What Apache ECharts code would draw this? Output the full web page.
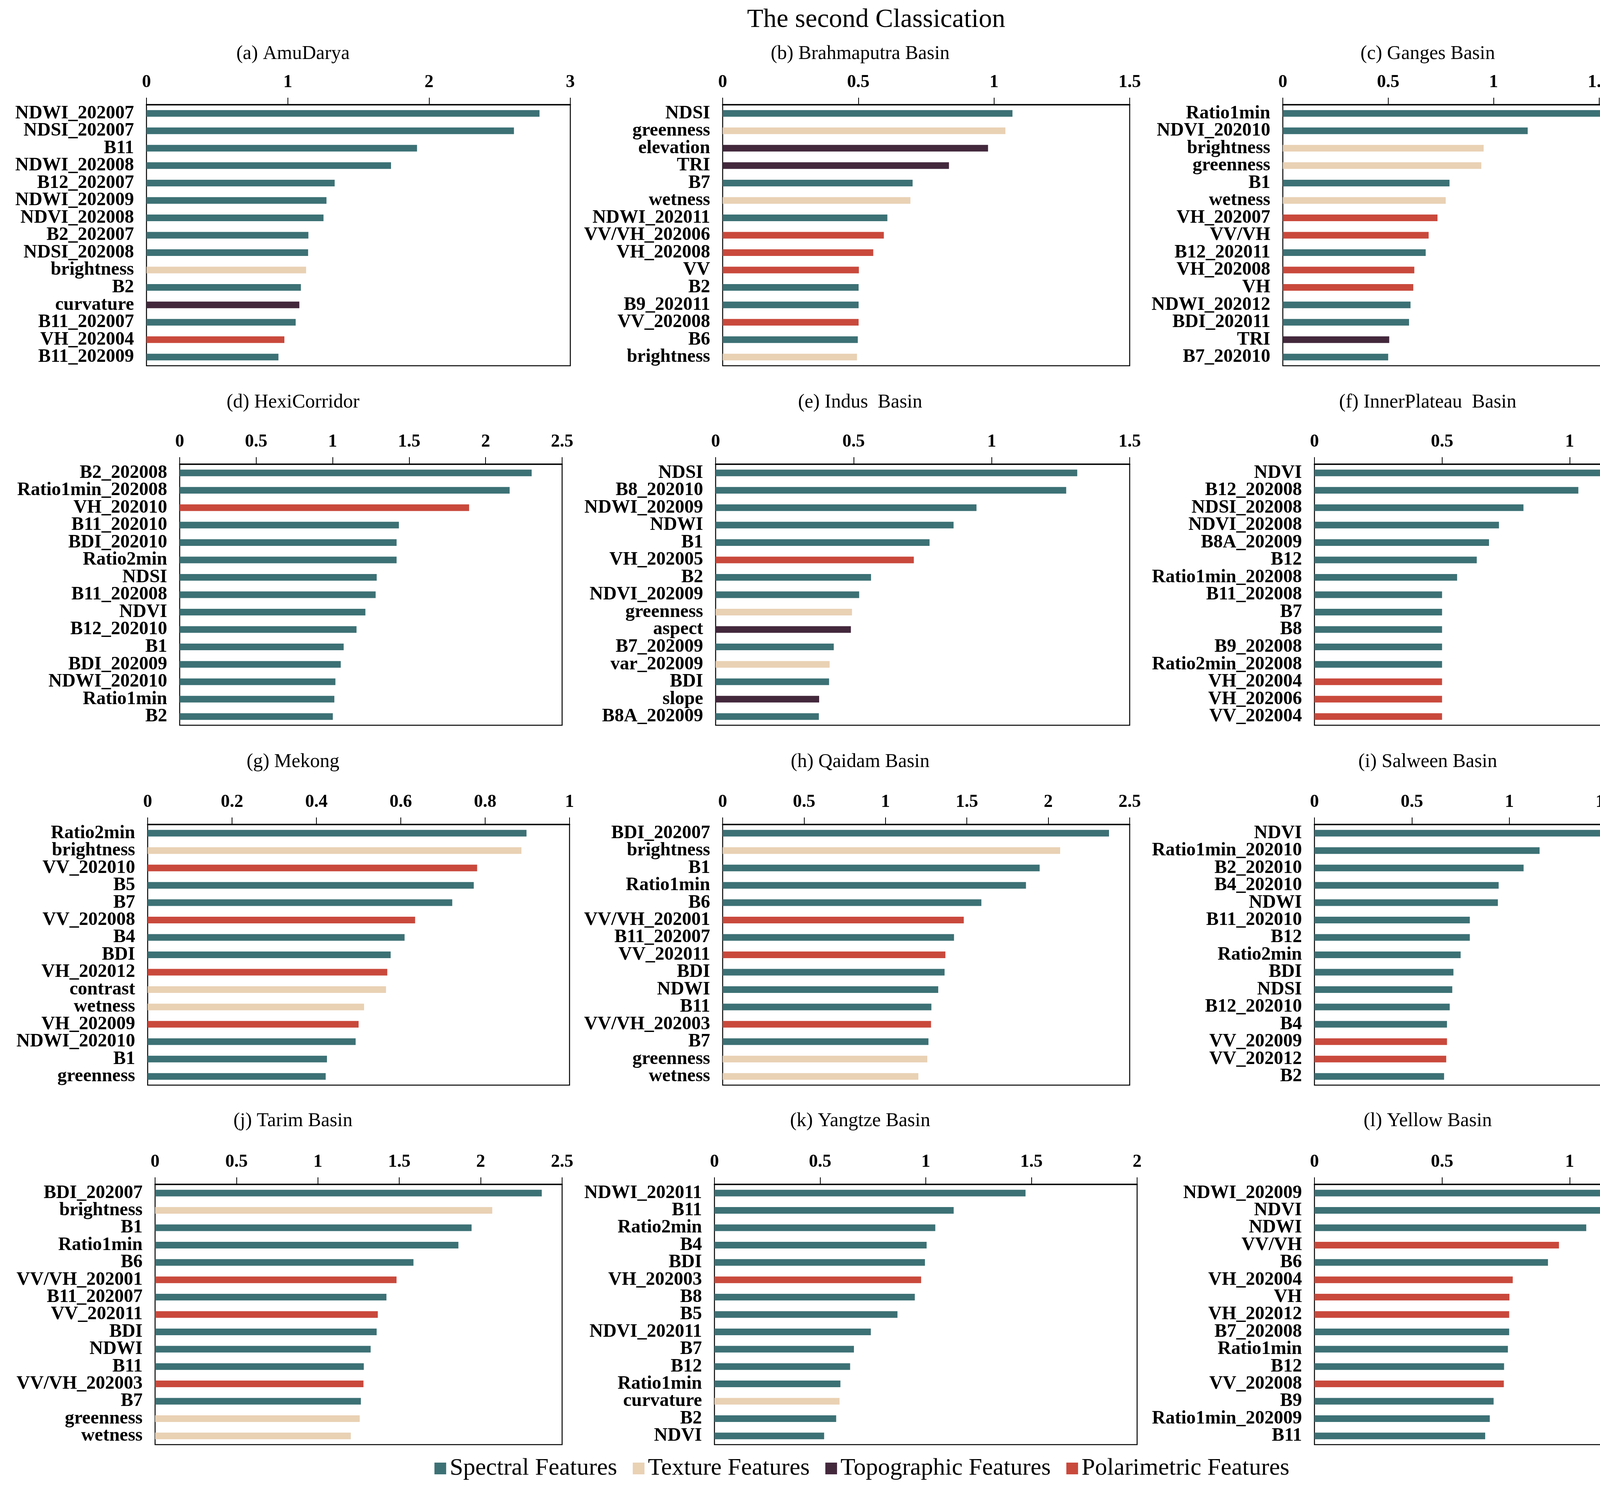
<!DOCTYPE html>
<html>
<head>
<meta charset="utf-8">
<title>The second Classication</title>
<script src="https://cdn.jsdelivr.net/npm/echarts@6/dist/echarts.min.js"></script>
<style>
  html, body { margin: 0; padding: 0; background: #fff; }
  #chart { width: 4413px; height: 3808px; }
</style>
</head>
<body>
<div id="chart"></div>
<script>
// feature type codes: S spectral, T texture, G topographic, P polarimetric
const typeNames = ['Spectral Features', 'Texture Features', 'Topographic Features', 'Polarimetric Features'];
const typeCodes = ['S', 'T', 'G', 'P'];
const typeColors = ['#3c7175', '#e9d1b4', '#43283c', '#c9493c'];

const panelTitles = ['(a) AmuDarya', '(b) Brahmaputra Basin', '(c) Ganges Basin',
  '(d) HexiCorridor', '(e) Indus  Basin', '(f) InnerPlateau  Basin',
  '(g) Mekong', '(h) Qaidam Basin', '(i) Salween Basin',
  '(j) Tarim Basin', '(k) Yangtze Basin', '(l) Yellow Basin'];
const axisMax = [3, 1.5, 2, 2.5, 1.5, 1.5, 1, 2.5, 2, 2.5, 2, 1.5];
const axisStep = [1, 0.5, 0.5, 0.5, 0.5, 0.5, 0.2, 0.5, 0.5, 0.5, 0.5, 0.5];

const amuLabels = ['NDWI_202007', 'NDSI_202007', 'B11', 'NDWI_202008', 'B12_202007', 'NDWI_202009', 'NDVI_202008', 'B2_202007', 'NDSI_202008', 'brightness', 'B2', 'curvature', 'B11_202007', 'VH_202004', 'B11_202009'];
const amuValues = [2.782, 2.601, 1.915, 1.731, 1.332, 1.274, 1.253, 1.146, 1.144, 1.130, 1.093, 1.082, 1.056, 0.976, 0.934];
const amuTypes = ['S', 'S', 'S', 'S', 'S', 'S', 'S', 'S', 'S', 'T', 'S', 'G', 'S', 'P', 'S'];

const brahLabels = ['NDSI', 'greenness', 'elevation', 'TRI', 'B7', 'wetness', 'NDWI_202011', 'VV/VH_202006', 'VH_202008', 'VV', 'B2', 'B9_202011', 'VV_202008', 'B6', 'brightness'];
const brahValues = [1.068, 1.042, 0.978, 0.834, 0.700, 0.692, 0.607, 0.594, 0.555, 0.502, 0.501, 0.501, 0.501, 0.498, 0.495];
const brahTypes = ['S', 'T', 'G', 'G', 'S', 'T', 'S', 'P', 'P', 'P', 'S', 'S', 'P', 'S', 'T'];

const gangLabels = ['Ratio1min', 'NDVI_202010', 'brightness', 'greenness', 'B1', 'wetness', 'VH_202007', 'VV/VH', 'B12_202011', 'VH_202008', 'VH', 'NDWI_202012', 'BDI_202011', 'TRI', 'B7_202010'];
const gangValues = [1.653, 1.162, 0.953, 0.942, 0.791, 0.773, 0.734, 0.692, 0.678, 0.624, 0.619, 0.606, 0.599, 0.505, 0.500];
const gangTypes = ['S', 'S', 'T', 'T', 'S', 'T', 'P', 'P', 'S', 'P', 'P', 'S', 'S', 'G', 'S'];

const hexiLabels = ['B2_202008', 'Ratio1min_202008', 'VH_202010', 'B11_202010', 'BDI_202010', 'Ratio2min', 'NDSI', 'B11_202008', 'NDVI', 'B12_202010', 'B1', 'BDI_202009', 'NDWI_202010', 'Ratio1min', 'B2'];
const hexiValues = [2.301, 2.157, 1.892, 1.433, 1.418, 1.418, 1.288, 1.281, 1.214, 1.156, 1.072, 1.053, 1.018, 1.011, 1.001];
const hexiTypes = ['S', 'S', 'P', 'S', 'S', 'S', 'S', 'S', 'S', 'S', 'S', 'S', 'S', 'S', 'S'];

const indusLabels = ['NDSI', 'B8_202010', 'NDWI_202009', 'NDWI', 'B1', 'VH_202005', 'B2', 'NDVI_202009', 'greenness', 'aspect', 'B7_202009', 'var_202009', 'BDI', 'slope', 'B8A_202009'];
const indusValues = [1.310, 1.270, 0.945, 0.862, 0.775, 0.718, 0.563, 0.520, 0.494, 0.490, 0.428, 0.413, 0.411, 0.375, 0.374];
const indusTypes = ['S', 'S', 'S', 'S', 'S', 'P', 'S', 'S', 'T', 'G', 'S', 'T', 'S', 'G', 'S'];

const innerLabels = ['NDVI', 'B12_202008', 'NDSI_202008', 'NDVI_202008', 'B8A_202009', 'B12', 'Ratio1min_202008', 'B11_202008', 'B7', 'B8', 'B9_202008', 'Ratio2min_202008', 'VH_202004', 'VH_202006', 'VV_202004'];
const innerValues = [1.138, 1.034, 0.819, 0.723, 0.684, 0.636, 0.559, 0.500, 0.500, 0.500, 0.500, 0.500, 0.500, 0.500, 0.500];
const innerTypes = ['S', 'S', 'S', 'S', 'S', 'S', 'S', 'S', 'S', 'S', 'S', 'S', 'P', 'P', 'P'];

const mekongLabels = ['Ratio2min', 'brightness', 'VV_202010', 'B5', 'B7', 'VV_202008', 'B4', 'BDI', 'VH_202012', 'contrast', 'wetness', 'VH_202009', 'NDWI_202010', 'B1', 'greenness'];
const mekongValues = [0.898, 0.886, 0.781, 0.773, 0.722, 0.634, 0.609, 0.576, 0.568, 0.565, 0.513, 0.500, 0.493, 0.425, 0.422];
const mekongTypes = ['S', 'T', 'P', 'S', 'S', 'P', 'S', 'S', 'P', 'T', 'T', 'P', 'S', 'S', 'S'];

const qaidamLabels = ['BDI_202007', 'brightness', 'B1', 'Ratio1min', 'B6', 'VV/VH_202001', 'B11_202007', 'VV_202011', 'BDI', 'NDWI', 'B11', 'VV/VH_202003', 'B7', 'greenness', 'wetness'];
const qaidamValues = [2.373, 2.073, 1.947, 1.863, 1.589, 1.481, 1.421, 1.368, 1.363, 1.324, 1.282, 1.280, 1.264, 1.257, 1.202];
const qaidamTypes = ['S', 'T', 'S', 'S', 'S', 'P', 'S', 'P', 'S', 'S', 'S', 'P', 'S', 'T', 'T'];

const salweenLabels = ['NDVI', 'Ratio1min_202010', 'B2_202010', 'B4_202010', 'NDWI', 'B11_202010', 'B12', 'Ratio2min', 'BDI', 'NDSI', 'B12_202010', 'B4', 'VV_202009', 'VV_202012', 'B2'];
const salweenValues = [1.534, 1.155, 1.073, 0.945, 0.941, 0.797, 0.797, 0.750, 0.713, 0.707, 0.694, 0.680, 0.680, 0.676, 0.665];
const salweenTypes = ['S', 'S', 'S', 'S', 'S', 'S', 'S', 'S', 'S', 'S', 'S', 'S', 'P', 'P', 'S'];

const tarimLabels = ['BDI_202007', 'brightness', 'B1', 'Ratio1min', 'B6', 'VV/VH_202001', 'B11_202007', 'VV_202011', 'BDI', 'NDWI', 'B11', 'VV/VH_202003', 'B7', 'greenness', 'wetness'];
const tarimValues = [2.375, 2.071, 1.944, 1.863, 1.587, 1.483, 1.421, 1.368, 1.361, 1.324, 1.282, 1.280, 1.264, 1.257, 1.202];
const tarimTypes = ['S', 'T', 'S', 'S', 'S', 'P', 'S', 'P', 'S', 'S', 'S', 'P', 'S', 'T', 'T'];

const yangtzeLabels = ['NDWI_202011', 'B11', 'Ratio2min', 'B4', 'BDI', 'VH_202003', 'B8', 'B5', 'NDVI_202011', 'B7', 'B12', 'Ratio1min', 'curvature', 'B2', 'NDVI'];
const yangtzeValues = [1.472, 1.132, 1.045, 1.004, 0.996, 0.978, 0.948, 0.866, 0.740, 0.660, 0.642, 0.596, 0.592, 0.576, 0.519];
const yangtzeTypes = ['S', 'S', 'S', 'S', 'S', 'P', 'S', 'S', 'S', 'S', 'S', 'S', 'T', 'S', 'S'];

const yellowLabels = ['NDWI_202009', 'NDVI', 'NDWI', 'VV/VH', 'B6', 'VH_202004', 'VH', 'VH_202012', 'B7_202008', 'Ratio1min', 'B12', 'VV_202008', 'B9', 'Ratio1min_202009', 'B11'];
const yellowValues = [1.450, 1.282, 1.065, 0.958, 0.915, 0.777, 0.764, 0.763, 0.763, 0.758, 0.743, 0.742, 0.702, 0.687, 0.669];
const yellowTypes = ['S', 'S', 'S', 'P', 'S', 'P', 'P', 'P', 'S', 'S', 'S', 'P', 'S', 'S', 'S'];

const panelLabels = [amuLabels, brahLabels, gangLabels, hexiLabels, indusLabels, innerLabels, mekongLabels, qaidamLabels, salweenLabels, tarimLabels, yangtzeLabels, yellowLabels];
const panelValues = [amuValues, brahValues, gangValues, hexiValues, indusValues, innerValues, mekongValues, qaidamValues, salweenValues, tarimValues, yangtzeValues, yellowValues];
const panelTypes = [amuTypes, brahTypes, gangTypes, hexiTypes, indusTypes, innerTypes, mekongTypes, qaidamTypes, salweenTypes, tarimTypes, yangtzeTypes, yellowTypes];

// layout in pixels
const gridBoxes = [
  [375, 268, 1085, 668], [1850, 268, 1042, 668], [3284, 268, 1079, 668],
  [460, 1188, 979, 668], [1832, 1188, 1060, 668], [3365, 1188, 980, 668],
  [378, 2110, 1080, 667], [1850, 2110, 1042, 667], [3365, 2110, 998, 667],
  [397, 3031, 1042, 666], [1829, 3031, 1082, 666], [3365, 3031, 980, 666]
];
const titleX = [750, 2202, 3655];
const titleY = [138, 1030, 1950, 2869];

const FONT = '"Liberation Serif", "Times New Roman", serif';

const chart = echarts.init(document.getElementById('chart'), null, { renderer: 'canvas' });

const grids = [], xAxes = [], yAxes = [], series = [];
const titles = [{
  text: 'The second Classication',
  left: 2243, top: 51, padding: 0,
  textAlign: 'center', textVerticalAlign: 'middle',
  textStyle: { fontFamily: FONT, fontSize: 68, fontWeight: 'normal', color: '#000' }
}];

panelTitles.forEach((name, i) => {
  const [l, t, w, h] = gridBoxes[i];
  titles.push({
    text: name,
    left: titleX[i % 3], top: titleY[Math.floor(i / 3)], padding: 0,
    textAlign: 'center', textVerticalAlign: 'middle',
    textStyle: { fontFamily: FONT, fontSize: 50, fontWeight: 'normal', color: '#000' }
  });
  grids.push({
    left: l, top: t, width: w, height: h,
    show: true, borderColor: '#000', borderWidth: 2.5, backgroundColor: 'transparent'
  });
  xAxes.push({
    gridIndex: i, type: 'value', position: 'top',
    min: 0, max: axisMax[i], interval: axisStep[i],
    axisLine: { show: true, lineStyle: { color: '#000', width: 3.5 } },
    axisTick: { show: true, inside: false, length: 18, lineStyle: { color: '#000', width: 2 } },
    splitLine: { show: false },
    axisLabel: {
      margin: 34, color: '#000', fontFamily: FONT, fontSize: 46, fontWeight: 'bold',
      formatter: v => String(+v.toFixed(2))
    }
  });
  yAxes.push({
    gridIndex: i, type: 'category', inverse: true, data: panelLabels[i],
    axisLine: { show: false }, axisTick: { show: false },
    axisLabel: { interval: 0, margin: 32, color: '#000', fontFamily: FONT, fontSize: 48, fontWeight: 'bold' }
  });
  typeCodes.forEach((code, k) => {
    series.push({
      type: 'bar', name: typeNames[k],
      xAxisIndex: i, yAxisIndex: i, stack: 'panel' + i,
      barWidth: 17,
      itemStyle: { color: typeColors[k] },
      data: panelValues[i].map((v, j) => panelTypes[i][j] === code ? v : null)
    });
  });
});

chart.setOption({
  backgroundColor: '#fff',
  animation: false,
  title: titles,
  legend: {
    data: typeNames,
    left: 'center', top: 3722,
    icon: 'rect', itemWidth: 30, itemHeight: 30, itemGap: 40,
    textStyle: { fontFamily: FONT, fontSize: 62, color: '#000', padding: [0, 0, 0, 4] }
  },
  grid: grids,
  xAxis: xAxes,
  yAxis: yAxes,
  series: series
});
</script>
</body>
</html>
